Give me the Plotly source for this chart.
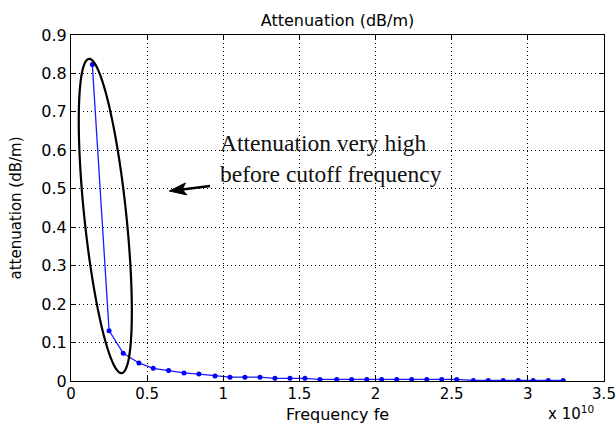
import numpy as np
import plotly.graph_objects as go

# ---------------- data ----------------
freq_ghz = [1.40, 2.50, 3.43, 4.46, 5.40, 6.41, 7.42, 8.40, 9.46, 10.44,
            11.42, 12.41, 13.39, 14.38, 15.36, 16.35, 17.45, 18.43, 19.42, 20.40,
            21.39, 22.37, 23.36, 24.34, 25.33, 26.42, 27.40, 28.38, 29.37, 30.35,
            31.34, 32.32]
atten_db_m = [0.823, 0.131, 0.072, 0.047, 0.033, 0.027, 0.021, 0.018, 0.013, 0.010,
              0.010, 0.010, 0.007, 0.007, 0.007, 0.004, 0.004, 0.004, 0.004, 0.004,
              0.004, 0.004, 0.004, 0.004, 0.004, 0.0015, 0.0015, 0.0015, 0.0015, 0.0015,
              0.0015, 0.0015]

x_tick_vals = [0, 0.5, 1, 1.5, 2, 2.5, 3, 3.5]
x_tick_text = ["0", "0.5", "1", "1.5", "2", "2.5", "3", "3.5"]
y_tick_vals = [0, 0.1, 0.2, 0.3, 0.4, 0.5, 0.6, 0.7, 0.8, 0.9]
y_tick_text = ["0", "0.1", "0.2", "0.3", "0.4", "0.5", "0.6", "0.7", "0.8", "0.9"]

title_text = "Attenuation (dB/m)"
x_title = "Frequency fe"
y_title = "attenuation (dB/m)"
note_text = "Attenuation very high<br>before cutoff frequency"

# ---------------- layout geometry ----------------
# the page body margin is removed by a small post script, so the figure
# fills the whole 616x432 window
W, H = 616, 432
PLOT_L, PLOT_R, PLOT_T, PLOT_B = 71, 604, 35, 381   # target page pixels
ML, MT = PLOT_L, PLOT_T
MR, MB = W - PLOT_R, H - PLOT_B
X_RANGE = [0, 3.5]
Y_RANGE = [0, 0.9]
PW = PLOT_R - PLOT_L
PH = PLOT_B - PLOT_T


def px2x(px):
    return X_RANGE[0] + (px - PLOT_L) / PW * (X_RANGE[1] - X_RANGE[0])


def px2y(py):
    return Y_RANGE[0] + (PLOT_B - py) / PH * (Y_RANGE[1] - Y_RANGE[0])


x_vals = [f / 10.0 for f in freq_ghz]  # in units of 1e10 Hz

fig = go.Figure()
fig.add_trace(go.Scatter(
    x=x_vals, y=atten_db_m, mode="lines+markers",
    line=dict(color="#1a1aff", width=1.3),
    marker=dict(color="#0000ff", size=5, symbol="circle"),
    showlegend=False, hoverinfo="skip",
))

# ---------------- ellipse (decoration, drawn in pixel space) ----------------
cx, cy, a, b, phi = 105.3, 216.0, 158.0, 21.0, np.deg2rad(5.95)
t = np.linspace(0, 2 * np.pi, 121)
ex = cx + a * np.cos(t) * np.sin(phi) + b * np.sin(t) * np.cos(phi)
ey = cy + a * np.cos(t) * np.cos(phi) - b * np.sin(t) * np.sin(phi)
path = "M " + " L ".join(f"{px2x(u):.5f},{px2y(v):.5f}" for u, v in zip(ex, ey)) + " Z"

shapes = [dict(type="path", path=path, xref="x", yref="y",
               line=dict(color="black", width=2.2), layer="above")]

# ---------------- arrow (decoration) ----------------
tip = np.array([169.3, 191.0])
tail = np.array([210.0, 186.0])
u = (tip - tail) / np.linalg.norm(tip - tail)
n = np.array([-u[1], u[0]])
head_len, head_half = 17.0, 6.0
base = tip - head_len * u
notch = tip - (head_len - 4) * u
p1 = base + head_half * n
p2 = base - head_half * n
shapes.append(dict(type="line", xref="x", yref="y",
                   x0=px2x(tail[0]), y0=px2y(tail[1]),
                   x1=px2x(notch[0]), y1=px2y(notch[1]),
                   line=dict(color="black", width=2.5)))
tri = (f"M {px2x(tip[0])},{px2y(tip[1])} L {px2x(p1[0])},{px2y(p1[1])} "
       f"L {px2x(notch[0])},{px2y(notch[1])} L {px2x(p2[0])},{px2y(p2[1])} Z")
shapes.append(dict(type="path", path=tri, xref="x", yref="y",
                   fillcolor="black", line=dict(color="black", width=1)))

annotations = [
    dict(text=note_text, xref="x", yref="y", x=px2x(218), y=px2y(158.5),
         xanchor="left", yanchor="middle", align="left", showarrow=False,
         font=dict(family="Liberation Serif, Times New Roman, serif", size=23.5, color="#111111")),
    dict(text="x 10<sup>10</sup>", xref="paper", yref="paper",
         x=(546.0 - PLOT_L) / PW, y=(PLOT_B - 413.0) / PH,
         xanchor="left", yanchor="middle", showarrow=False,
         font=dict(family="DejaVu Sans", size=15, color="black")),
]

grid_common = dict(showgrid=True, gridcolor="#000000", gridwidth=1, griddash="1px,3px",
                   showline=True, linecolor="black", linewidth=1, mirror="ticks",
                   ticks="inside", ticklen=5, tickcolor="black", zeroline=False,
                   automargin=False, ticklabeloverflow="allow")

fig.update_layout(
    width=W, height=H,
    margin=dict(l=ML, r=MR, t=MT, b=MB, autoexpand=False),
    paper_bgcolor="white", plot_bgcolor="white",
    title=dict(text=title_text, x=0.5, xref="paper", y=1 - 20 / H, yref="container",
               xanchor="center", yanchor="middle",
               font=dict(family="DejaVu Sans", size=16, color="black")),
    xaxis=dict(range=X_RANGE, tickmode="array", tickvals=x_tick_vals, ticktext=x_tick_text,
               ticklabelstandoff=-1, tickfont=dict(family="DejaVu Sans", size=15, color="black"),
               title=dict(text=x_title, standoff=6, font=dict(family="DejaVu Sans", size=16, color="black")),
               **grid_common),
    yaxis=dict(range=Y_RANGE, tickmode="array", tickvals=y_tick_vals, ticktext=y_tick_text,
               tickfont=dict(family="DejaVu Sans", size=16, color="black"),
               title=dict(text=y_title, standoff=16, font=dict(family="DejaVu Sans", size=15, color="black")),
               **grid_common),
    shapes=shapes,
    annotations=annotations,
    showlegend=False,
)

fig.write_html("out.html",
               config={"displayModeBar": False},
               post_script="document.body.style.margin='0px';document.body.style.overflow='hidden';")
